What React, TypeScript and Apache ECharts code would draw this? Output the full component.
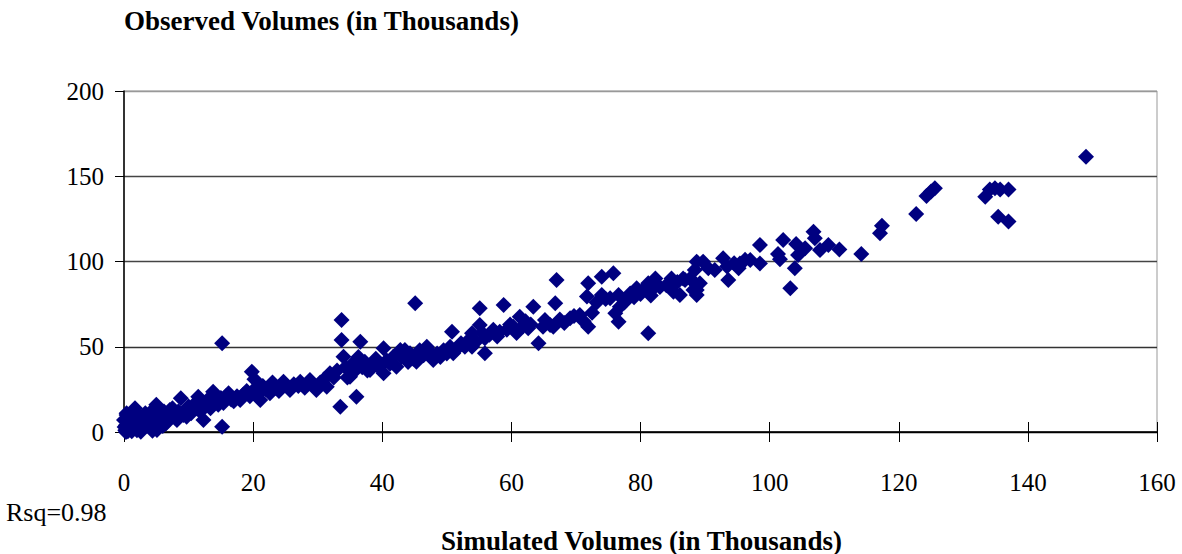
import React, { useEffect, useRef } from "react";
import * as echarts from "echarts";

const chartTitle = "Observed Volumes (in Thousands)";
const xAxisTitle = "Simulated Volumes (in Thousands)";
const rsqLabel = "Rsq=0.98";

const xTicks = { min: 0, max: 160, interval: 20 };
const yTicks = { min: 0, max: 200, interval: 50 };

// [simulated, observed] pairs in thousands
const nearOrigin: number[][] = [
  [0.2, 1], [0.3, 4], [0.5, 7], [0.4, 10], [0.8, 2], [1, 5], [1.2, 8], [1.5, 12], [1.7, 14], [0.6, 0.5],
  [1.8, 3], [2.2, 6], [2.5, 9], [2.8, 2], [3, 5], [3.3, 11], [3.6, 7], [4, 3], [4.2, 9], [4.5, 13],
  [4.8, 6], [5, 16], [5.2, 4], [5.5, 10], [5.8, 7], [6.2, 12], [6.5, 5], [6.8, 9], [7.2, 11], [7.5, 14],
  [8, 8], [8.4, 12], [8.8, 19.8], [9.2, 10], [9.6, 13], [10, 15], [10.4, 11], [10.8, 16], [11.2, 14], [11.5, 20.7],
  [11.8, 12], [12.2, 17], [12.6, 15], [13, 19], [13.4, 14], [13.8, 23.6], [14.2, 18], [14.6, 16], [15, 20], [15.4, 17],
  [15.2, 52], [15.2, 3.1], [0.4, 11], [0, 7], [0.9, 3.1], [3, 5.1], [5.1, 1.2], [8.2, 7], [7.1, 12.9], [9.7, 9], [12.3, 7],
  [0.3, 0], [1.2, 0.5], [2, 1], [0.1, 3], [2.6, 0.2], [4.4, 0.8], [1.4, 9], [3.8, 4.5], [6, 3.5],
];

const lowBand: number[][] = [
  [15.8, 21], [16.2, 22.7], [16.6, 19], [17, 18], [17.5, 21], [18, 18.8], [18.5, 22], [19, 24], [19.5, 21], [19.8, 35.4],
  [20.2, 31], [20.6, 26.6], [21, 23], [21.1, 18.8], [21.5, 27], [22, 25], [22.6, 22.7], [23, 29], [23.5, 26], [24, 24],
  [24.7, 29.5], [25.2, 27], [25.7, 24.6], [26.3, 28], [27, 27], [27.3, 29.5], [28, 26], [28.8, 30.5], [29.3, 28], [29.8, 24.6],
  [30.4, 29], [31, 31], [31.4, 26.6], [31.9, 34.4], [32.5, 32], [33, 36], [33.5, 14.8], [33.7, 65.7], [33.7, 54], [34, 44.2],
  [34.3, 38], [34.6, 32], [35, 32.4], [35.4, 40], [35.8, 36], [36, 20.7], [36.3, 44], [36.6, 53], [36.9, 38], [37.3, 41.2],
  [37.7, 36], [38.1, 36.4], [38.6, 40], [39, 43], [39.5, 38], [40.2, 49.1], [40.2, 34.4], [40.7, 42], [41.2, 40], [41.7, 44.2],
  [42.2, 38.3], [42.8, 48.1], [43, 44], [43.5, 48.1], [44, 41], [44.3, 46.2], [44.8, 43], [45.1, 75.5], [45.3, 41.2], [45.8, 48],
  [46.4, 45], [46.9, 50], [47.4, 47], [47.9, 42.2], [48.5, 46],
];

const midBand: number[][] = [
  [49, 44], [49.5, 48], [50, 46], [50.5, 50], [50.8, 58.8], [51, 46.2], [51.6, 49], [52.2, 52], [52.8, 50], [53.4, 54],
  [53.9, 57.9], [53.9, 50], [54.5, 53], [55.1, 72.6], [55.1, 62.8], [55.5, 58], [55.9, 55], [55.9, 46.2], [56.6, 57], [57.2, 60],
  [57.8, 56], [58.2, 58.8], [58.8, 74.5], [59.3, 60], [59.8, 63], [60.3, 61.8], [60.8, 58], [61.3, 67.6], [61.8, 62], [62.2, 65],
  [62.6, 60.8], [63, 63], [63.4, 73.5], [64.2, 52], [64.9, 61.8], [65.2, 65.7], [66, 62.8], [66.5, 61.8], [66.8, 75.5], [67, 89.1],
  [67.5, 66], [68.2, 64], [69.1, 66.7], [69.7, 68], [70.6, 68.6], [71.2, 65], [71.7, 79.4], [71.9, 87.2], [71.9, 61.8], [72.5, 70],
  [73.2, 76], [74, 80.4], [74, 91.1], [74.6, 78], [75.3, 78.4], [75.8, 93.1], [76.1, 69.6], [76.6, 80.4], [76.6, 64.7], [76.8, 73.5],
  [77.5, 76], [78.4, 81.3], [79, 79], [79.4, 84.3], [80, 81], [80.4, 83.3], [81.2, 87.2], [81.2, 57.9], [81.6, 80], [82, 84.3],
  [82.3, 90.1], [83, 85], [84, 86],
];

const highBand: number[][] = [
  [84.8, 90.1], [85.1, 82.3], [85.7, 88], [86.1, 80.4], [86.6, 90.1], [86.9, 89.1], [87.7, 90.1], [87.9, 89.1], [88.2, 83.3], [88.4, 95],
  [88.7, 99.9], [88.7, 83.3], [88.7, 80.4], [89.2, 87.2], [89.7, 99.9], [90.5, 96], [91.5, 95], [92.8, 101.9], [93.4, 97], [93.6, 89.1],
  [94.5, 99], [95.2, 96], [95.4, 98.9], [96.2, 101], [97, 100.9], [98.5, 109.7], [98.5, 98.9], [101.3, 104.4], [101.6, 101.3], [102.1, 112.6],
  [103.2, 84.3], [103.9, 96], [104.1, 110.3], [104.4, 103.8], [105.5, 107.7], [106.8, 117.5], [107, 113.6], [107.8, 106.7], [109.1, 109.7], [110.8, 107.1],
  [114.2, 104.4], [117.1, 116.5], [117.4, 121], [122.7, 127.9], [124.3, 138.4], [125, 141], [125.6, 142.9], [133.4, 138], [134.1, 142.3], [134.9, 142.9],
  [135.7, 142.3], [137, 142.3], [135.4, 126.3], [137, 123.4], [149, 161.5],
];

const FONT = "'Liberation Serif', 'Times New Roman', serif";

export default function App() {
  const ref = useRef<HTMLDivElement>(null);
  useEffect(() => {
    if (!ref.current) return;
    const chart = echarts.init(ref.current, undefined, { renderer: "svg" });
    const points = [...nearOrigin, ...lowBand, ...midBand, ...highBand];
    chart.setOption({
      animation: false,
      backgroundColor: "#fff",
      textStyle: { fontFamily: FONT },
      grid: { left: 124, right: 25, top: 91, bottom: 122, show: true, borderColor: "#999", borderWidth: 1 },
      xAxis: [
        {
          type: "value",
          min: xTicks.min,
          max: xTicks.max,
          interval: xTicks.interval,
          axisLine: { show: true, onZero: false, lineStyle: { color: "#000", width: 1.5 } },
          axisTick: { show: true, length: 10, lineStyle: { color: "#000" } },
          axisLabel: { margin: 38, fontSize: 25, color: "#000", fontFamily: FONT },
          splitLine: { show: false },
        },
        {
          type: "value",
          position: "bottom",
          min: xTicks.min,
          max: xTicks.max,
          interval: xTicks.interval,
          axisLine: { show: false },
          axisTick: { show: true, inside: true, length: 10, lineStyle: { color: "#000" } },
          axisLabel: { show: false },
          splitLine: { show: false },
        },
      ],
      yAxis: {
        type: "value",
        min: yTicks.min,
        max: yTicks.max,
        interval: yTicks.interval,
        axisLine: { show: true, lineStyle: { color: "#000", width: 1.5 } },
        axisTick: { show: true, length: 9, lineStyle: { color: "#000" } },
        axisLabel: { margin: 20, fontSize: 25, color: "#000", fontFamily: FONT },
        splitLine: { show: true, lineStyle: { color: ["#000", "#333", "#444", "#444", "#999"], width: 1.3 } },
      },
      series: [
        {
          type: "scatter",
          data: points,
          symbol: "diamond",
          symbolSize: 16,
          clip: false,
          itemStyle: { color: "#000080", opacity: 1 },
        },
      ],
      graphic: [
        { type: "text", left: 124, top: 7, style: { text: chartTitle, font: `bold 27px ${FONT}`, fill: "#000" } },
        { type: "text", left: 6, top: 499, style: { text: rsqLabel, font: `26px ${FONT}`, fill: "#000" } },
        { type: "text", left: 441, top: 527, style: { text: xAxisTitle, font: `bold 27px ${FONT}`, fill: "#000" } },
      ],
    });
    return () => chart.dispose();
  }, []);
  return <div ref={ref} style={{ position: "fixed", left: 0, top: 0, width: 1182, height: 554 }} />;
}
